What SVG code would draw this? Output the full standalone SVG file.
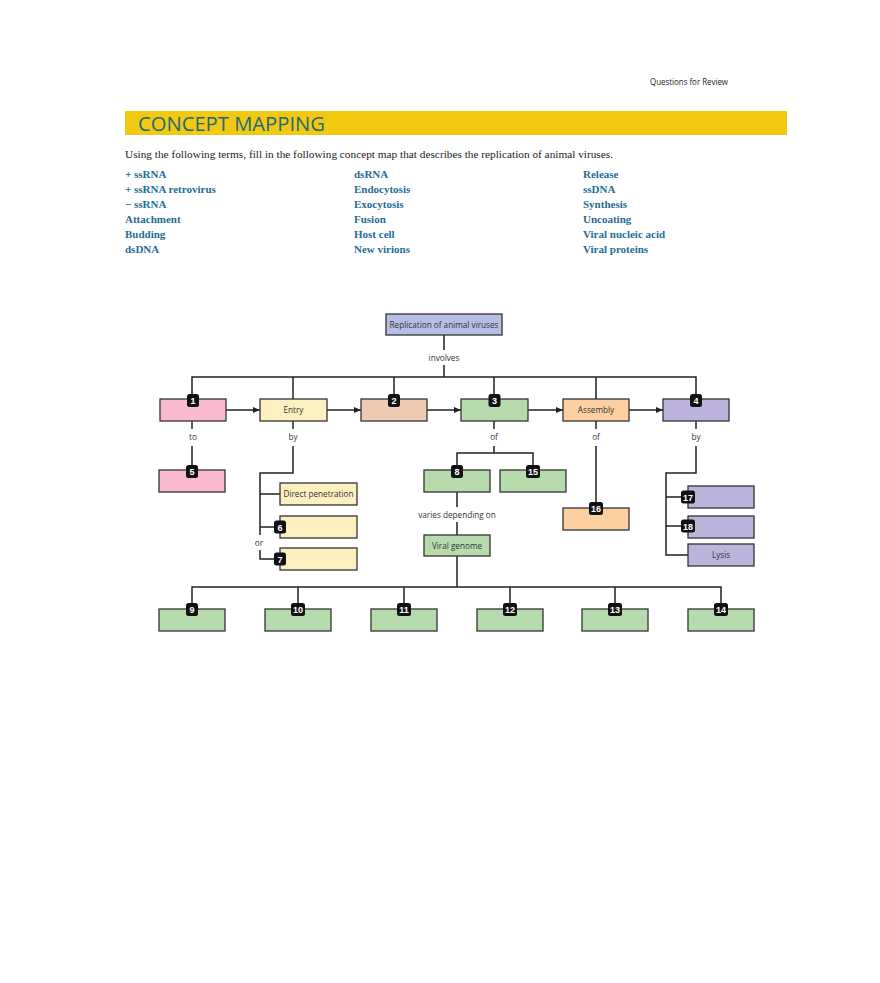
<svg xmlns="http://www.w3.org/2000/svg" width="880" height="983" viewBox="0 0 880 983">
<defs>
<style>
.hdr{font-family:"Open Sans","Noto Sans",sans-serif;font-size:9px;fill:#222}
.title{font-family:"Open Sans","Noto Sans",sans-serif;font-size:20px;fill:#1D6B78}
.instr{font-family:"Liberation Serif",serif;font-size:11px;fill:#222}
.term{font-family:"Liberation Serif",serif;font-size:11px;font-weight:bold;fill:#1F6C97}
.box{stroke:#333;stroke-width:1.3}
.lbl{font-family:"Open Sans","Noto Sans",sans-serif;font-size:8.2px;fill:#333;text-anchor:middle}
.con{fill:none;stroke:#222;stroke-width:1.5}
.badge{fill:#111}
.num{font-family:"Liberation Sans","DejaVu Sans",sans-serif;font-size:9px;font-weight:bold;fill:#fff;text-anchor:middle}
.pink{fill:#F9B9CF}
.yel{fill:#FDF0C0}
.peach{fill:#EECBB4}
.grn{fill:#B6DCAE}
.org{fill:#FDD0A2}
.lav{fill:#BCB4DC}
.blu{fill:#B5BFE6}
</style>
<marker id="arr" markerWidth="7" markerHeight="6" refX="7" refY="3" orient="auto" markerUnits="userSpaceOnUse">
<path d="M0,0 L7,3 L0,6 Z" fill="#222"/>
</marker>
</defs>
<rect width="880" height="983" fill="#fff"/>

<text class="hdr" x="728" y="85" text-anchor="end" textLength="78" lengthAdjust="spacingAndGlyphs">Questions for Review</text>
<rect x="125" y="111" width="662" height="24" fill="#F2C811"/>
<text class="title" x="138" y="131" textLength="187" lengthAdjust="spacingAndGlyphs">CONCEPT MAPPING</text>
<text class="instr" x="125" y="158" textLength="488" lengthAdjust="spacingAndGlyphs">Using the following terms, fill in the following concept map that describes the replication of animal viruses.</text>

<g id="terms">
<text class="term" x="125" y="178">+ ssRNA</text>
<text class="term" x="125" y="193">+ ssRNA retrovirus</text>
<text class="term" x="125" y="208">− ssRNA</text>
<text class="term" x="125" y="223">Attachment</text>
<text class="term" x="125" y="238">Budding</text>
<text class="term" x="125" y="253">dsDNA</text>
<text class="term" x="354" y="178">dsRNA</text>
<text class="term" x="354" y="193">Endocytosis</text>
<text class="term" x="354" y="208">Exocytosis</text>
<text class="term" x="354" y="223">Fusion</text>
<text class="term" x="354" y="238">Host cell</text>
<text class="term" x="354" y="253">New virions</text>
<text class="term" x="583" y="178">Release</text>
<text class="term" x="583" y="193">ssDNA</text>
<text class="term" x="583" y="208">Synthesis</text>
<text class="term" x="583" y="223">Uncoating</text>
<text class="term" x="583" y="238">Viral nucleic acid</text>
<text class="term" x="583" y="253">Viral proteins</text>
</g>

<g id="connectors">
<path class="con" d="M444,335 V350 M444,365 V377"/>
<path class="con" d="M192,399 V377 H696 V399 M293,377 V399 M394,377 V399 M494,377 V399 M596,377 V399"/>
<path class="con" marker-end="url(#arr)" d="M226,410 H260"/>
<path class="con" marker-end="url(#arr)" d="M327,410 H361"/>
<path class="con" marker-end="url(#arr)" d="M427,410 H461"/>
<path class="con" marker-end="url(#arr)" d="M528,410 H563"/>
<path class="con" marker-end="url(#arr)" d="M629,410 H663"/>
<path class="con" d="M192,421 V429 M192,446 V470"/>
<path class="con" d="M293,421 V429 M293,446 V473 H260 V535 M260,550 V559 H280 M260,494 H280 M260,527 H280"/>
<path class="con" d="M494,421 V429 M494,446 V453 M457,470 V453 H533 V470"/>
<path class="con" d="M457,492 V507 M457,522 V535"/>
<path class="con" d="M457,556 V587 M192,609 V587 H721 V609 M298,587 V609 M404,587 V609 M510,587 V609 M615,587 V609"/>
<path class="con" d="M596,421 V429 M596,446 V508"/>
<path class="con" d="M696,421 V429 M696,446 V473 H666 V555 H688 M666,497 H688 M666,526 H688"/>
</g>

<g id="root"><rect class="box blu" x="386" y="314" width="116" height="21"/><text class="lbl" x="444" y="327.5" textLength="109" lengthAdjust="spacingAndGlyphs">Replication of animal viruses</text></g>
<text class="lbl" x="444" y="361">involves</text>

<g id="n1"><rect class="box pink" x="160" y="399" width="66" height="22"/><rect class="badge" x="187" y="394" width="12" height="13" rx="2.5"/><text class="num" x="193" y="404">1</text></g>
<g id="entry"><rect class="box yel" x="260" y="399" width="67" height="22"/><text class="lbl" x="293.5" y="413">Entry</text></g>
<g id="n2"><rect class="box peach" x="361" y="399" width="66" height="22"/><rect class="badge" x="388" y="394" width="12" height="13" rx="2.5"/><text class="num" x="394" y="404">2</text></g>
<g id="n3"><rect class="box grn" x="461" y="399" width="67" height="22"/><rect class="badge" x="488.5" y="394" width="12" height="13" rx="2.5"/><text class="num" x="494.5" y="404">3</text></g>
<g id="assembly"><rect class="box org" x="563" y="399" width="66" height="22"/><text class="lbl" x="596" y="413">Assembly</text></g>
<g id="n4"><rect class="box lav" x="663" y="399" width="66" height="22"/><rect class="badge" x="690" y="394" width="12" height="13" rx="2.5"/><text class="num" x="696" y="404">4</text></g>

<text class="lbl" x="193" y="440">to</text>
<text class="lbl" x="293" y="440">by</text>
<text class="lbl" x="494" y="440">of</text>
<text class="lbl" x="596" y="440">of</text>
<text class="lbl" x="696" y="440">by</text>

<g id="n5"><rect class="box pink" x="159" y="470" width="66" height="22"/><rect class="badge" x="186" y="465" width="12" height="13" rx="2.5"/><text class="num" x="192" y="475">5</text></g>

<g id="direct"><rect class="box yel" x="280" y="483" width="77" height="22"/><text class="lbl" x="318.5" y="497" textLength="70" lengthAdjust="spacingAndGlyphs">Direct penetration</text></g>
<g id="n6"><rect class="box yel" x="280" y="516" width="77" height="22"/><rect class="badge" x="274" y="520.5" width="12" height="13" rx="2.5"/><text class="num" x="280" y="530.5">6</text></g>
<text class="lbl" x="259" y="546">or</text>
<g id="n7"><rect class="box yel" x="280" y="548" width="77" height="22"/><rect class="badge" x="274" y="552.5" width="12" height="13" rx="2.5"/><text class="num" x="280" y="562.5">7</text></g>

<g id="n8"><rect class="box grn" x="424" y="470" width="66" height="22"/><rect class="badge" x="451" y="465" width="12" height="13" rx="2.5"/><text class="num" x="457" y="475">8</text></g>
<g id="n15"><rect class="box grn" x="500" y="470" width="66" height="22"/><rect class="badge" x="526" y="465" width="14" height="13" rx="2.5"/><text class="num" x="533" y="475">15</text></g>
<text class="lbl" x="457" y="518">varies depending on</text>
<g id="genome"><rect class="box grn" x="424" y="535" width="66" height="21"/><text class="lbl" x="457" y="548.5">Viral genome</text></g>

<g id="n16"><rect class="box org" x="563" y="508" width="66" height="22"/><rect class="badge" x="589" y="502" width="14" height="13" rx="2.5"/><text class="num" x="596" y="512">16</text></g>

<g id="n17"><rect class="box lav" x="688" y="486" width="66" height="22"/><rect class="badge" x="681" y="490.5" width="14" height="13" rx="2.5"/><text class="num" x="688" y="500.5">17</text></g>
<g id="n18"><rect class="box lav" x="688" y="516" width="66" height="22"/><rect class="badge" x="681" y="519.5" width="14" height="13" rx="2.5"/><text class="num" x="688" y="529.5">18</text></g>
<g id="lysis"><rect class="box lav" x="688" y="544" width="66" height="22"/><text class="lbl" x="721" y="558">Lysis</text></g>

<g id="n9"><rect class="box grn" x="159" y="609" width="66" height="22"/><rect class="badge" x="186" y="603" width="12" height="13" rx="2.5"/><text class="num" x="192" y="613">9</text></g>
<g id="n10"><rect class="box grn" x="265" y="609" width="66" height="22"/><rect class="badge" x="291" y="603" width="14" height="13" rx="2.5"/><text class="num" x="298" y="613">10</text></g>
<g id="n11"><rect class="box grn" x="371" y="609" width="66" height="22"/><rect class="badge" x="397" y="603" width="14" height="13" rx="2.5"/><text class="num" x="404" y="613">11</text></g>
<g id="n12"><rect class="box grn" x="477" y="609" width="66" height="22"/><rect class="badge" x="503" y="603" width="14" height="13" rx="2.5"/><text class="num" x="510" y="613">12</text></g>
<g id="n13"><rect class="box grn" x="582" y="609" width="66" height="22"/><rect class="badge" x="608" y="603" width="14" height="13" rx="2.5"/><text class="num" x="615" y="613">13</text></g>
<g id="n14"><rect class="box grn" x="688" y="609" width="66" height="22"/><rect class="badge" x="714" y="603" width="14" height="13" rx="2.5"/><text class="num" x="721" y="613">14</text></g>
</svg>
